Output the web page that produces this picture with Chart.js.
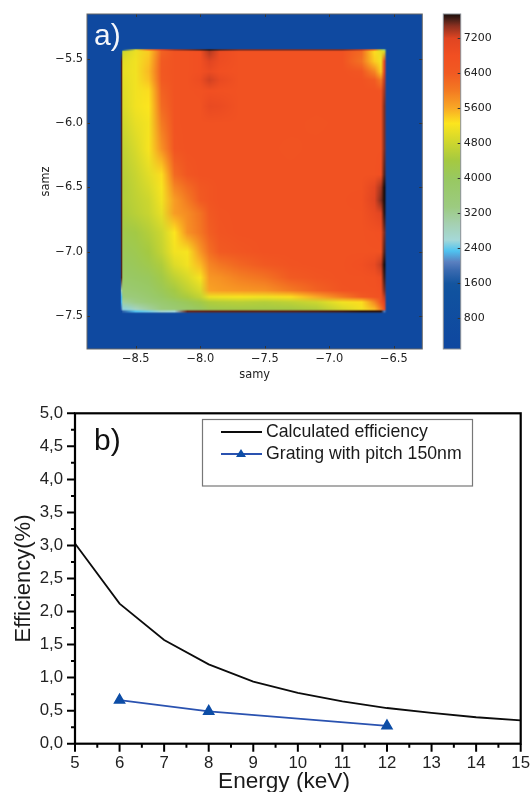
<!DOCTYPE html>
<html>
<head>
<meta charset="utf-8">
<style>
  html, body { margin: 0; padding: 0; background: #fff; }
  body { position: relative; width: 531px; height: 792px; overflow: hidden; }
  canvas { position: absolute; filter: blur(0.45px); }
</style>
<script src="https://cdn.jsdelivr.net/npm/chart.js@4"></script>
</head>
<body>
<canvas id="map-chart" width="430" height="395" style="left:0;top:0"></canvas>
<canvas id="bar-chart" width="101" height="395" style="left:430px;top:0"></canvas>
<canvas id="eff-chart" width="531" height="397" style="left:0;top:395px"></canvas>
<script>
// scan map a): node positions and counts
const samyNodes = [-8.88, -8.62, -8.61, -8.6, -8.5, -8.4, -8.3, -8.2, -8.1, -8.0, -7.93, -7.85, -7.7, -7.5, -7.3, -7.1, -6.9, -6.75, -6.65, -6.6, -6.575, -6.555, -6.28];
const samzNodes = [-5.15, -5.42, -5.432, -5.445, -5.52, -5.6, -5.665, -5.75, -5.87, -6.0, -6.2, -6.4, -6.5, -6.6, -6.7, -6.85, -7.0, -7.1, -7.2, -7.3, -7.35, -7.39, -7.445, -7.462, -7.48, -7.76];
const counts = [
  [300,300,300,300,300,300,300,300,300,300,300,300,300,300,300,300,300,300,300,300,300,300,300],
  [300,300,300,300,300,300,300,300,300,300,300,300,300,300,300,300,300,300,300,300,300,300,300],
  [300,300,300,1200,5000,6000,7200,7400,7500,7600,7700,7600,7500,7500,7500,7500,7500,7300,6000,4500,3500,300,300],
  [300,300,1200,4800,5100,5400,6300,6650,6700,6800,7350,6950,6700,6700,6680,6700,6700,6200,5300,5050,4900,300,300],
  [300,300,7600,5000,5150,5450,6400,6650,6700,6800,7200,6900,6700,6700,6700,6700,6700,6100,5400,5150,7000,300,300],
  [300,300,7600,5050,5150,5500,6450,6650,6700,6800,6950,6800,6700,6700,6700,6700,6700,6550,5900,5400,7200,300,300],
  [300,300,7600,5000,5150,5450,6400,6650,6700,6900,7250,7000,6700,6680,6700,6700,6700,6700,6400,6000,7300,300,300],
  [300,300,7600,4950,5150,5300,6300,6650,6700,6720,6800,6750,6700,6700,6700,6700,6700,6700,6700,6650,7400,300,300],
  [300,300,7600,4900,5150,5250,6200,6650,6700,6700,7000,6950,6700,6700,6700,6700,6700,6700,6700,6700,7500,300,300],
  [300,300,7600,4800,5050,5180,6000,6650,6700,6700,6700,6700,6700,6680,6700,6650,6700,6700,6700,6700,7500,300,300],
  [300,300,7600,4650,4900,5200,5800,6600,6700,6700,6700,6700,6700,6700,6650,6700,6700,6700,6700,6700,7500,300,300],
  [300,300,7600,4550,4750,5000,5300,6200,6550,6700,6700,6700,6700,6700,6700,6700,6700,6700,6700,6800,7600,300,300],
  [300,300,7600,4500,4700,4900,5200,5900,6200,6500,6600,6700,6700,6700,6700,6700,6700,6700,7100,7400,7750,300,300],
  [300,300,7600,4500,4650,4800,5150,5700,6000,6400,6600,6700,6700,6700,6700,6700,6700,6750,7200,7500,7750,300,300],
  [300,300,7600,4450,4600,4750,5050,5700,5850,6100,6450,6650,6700,6700,6700,6700,6700,6700,7000,7200,7700,300,300],
  [300,300,7600,4250,4350,4550,4800,5250,5800,6050,6350,6600,6700,6700,6700,6700,6700,6700,6750,6800,7500,300,300],
  [300,300,7600,4100,4200,4400,4700,5150,5200,5750,6150,6400,6550,6700,6700,6700,6700,6700,6700,6700,7600,300,300],
  [300,300,7600,4000,4100,4250,4500,4950,5150,5500,5900,6050,6250,6450,6650,6700,6700,6800,7000,7300,7750,300,300],
  [300,300,7600,3850,3950,4050,4300,4650,4900,5200,5750,5800,5950,6100,6400,6600,6700,6700,6750,6900,7650,300,300],
  [300,300,3000,3600,3700,3850,4100,4350,4650,4900,5650,5700,5750,5800,6000,6300,6650,6700,6700,6800,7500,300,300],
  [300,300,2300,3400,3500,3700,3950,4200,4450,4700,5100,5150,5200,5150,5300,5600,6000,6400,6650,6700,7300,300,300],
  [300,300,2300,3100,3300,3500,3700,3900,4100,4300,4500,4550,4600,4550,4650,4800,5150,5300,5900,6600,7200,300,300],
  [300,300,2000,2500,2800,3100,3400,3600,3800,4000,4200,4250,4300,4300,4350,4500,4900,5150,5500,6000,6800,300,300],
  [300,300,300,1800,2350,2450,2700,2600,7560,7570,7580,7580,7590,7590,7600,7620,7650,7700,7700,7700,2000,300,300],
  [300,300,300,300,300,300,300,300,300,300,300,300,300,300,300,300,300,300,300,300,300,300,300],
  [300,300,300,300,300,300,300,300,300,300,300,300,300,300,300,300,300,300,300,300,300,300,300],
];

const samyTicks = [-8.5, -8.0, -7.5, -7.0, -6.5];
const samzTicks = [-5.5, -6.0, -6.5, -7.0, -7.5];
const colorbarTicks = [800, 1600, 2400, 3200, 4000, 4800, 5600, 6400, 7200];

// colour bar stops, counts -> colour
const stopValues = [84, 1400, 1590, 1890, 2080, 2330, 2580, 2960, 3340, 4000, 4400, 4800, 5250, 5600, 6000, 6400, 6800, 7200, 7480, 7630, 7756];
const stopColors = ["#0f47a0", "#10529f", "#14559f", "#3a6ab0", "#5a80c0", "#4fc3f0", "#a5d8d8", "#a5d0b0", "#9ccb80", "#98c860", "#a5c940", "#cdd62e", "#fce51e", "#f9a825", "#f37a22", "#f15a22", "#f14f22", "#e04522", "#8c3020", "#4a2018", "#1a0c08"];

// efficiency plot b)
const energies = [5, 6, 7, 8, 9, 10, 11, 12, 13, 14, 15];
const calculated = [3.03, 2.12, 1.57, 1.2, 0.94, 0.77, 0.64, 0.54, 0.465, 0.4, 0.354];
const gratingEnergies = [6, 8, 12];
const gratingEfficiency = [0.66, 0.49, 0.27];

const sans = "'Liberation Sans', Arial, sans-serif";
const dejavu = "'DejaVu Sans', sans-serif";

function hexToRgb(hex) {
  return [1, 3, 5].map((i) => parseInt(hex.slice(i, i + 2), 16));
}

function valueToRgb(v) {
  if (v <= stopValues[0]) return hexToRgb(stopColors[0]);
  for (let i = 1; i < stopValues.length; i++) {
    if (v <= stopValues[i]) {
      const t = (v - stopValues[i - 1]) / (stopValues[i] - stopValues[i - 1]);
      const a = hexToRgb(stopColors[i - 1]);
      const b = hexToRgb(stopColors[i]);
      return a.map((c, k) => c + (b[k] - c) * t);
    }
  }
  return hexToRgb(stopColors[stopColors.length - 1]);
}

// index of the node pair around v, nodes may run up or down
function bracket(nodes, v) {
  const dir = nodes[1] > nodes[0] ? 1 : -1;
  let i = 0;
  while (i < nodes.length - 2 && (nodes[i + 1] - v) * dir < 0) i++;
  let t = (v - nodes[i]) / (nodes[i + 1] - nodes[i]);
  t = Math.max(0, Math.min(1, t));
  return [i, t];
}

// stops the layout from adding room for half a tick label
function fixBox(scale, size) {
  if (scale.isHorizontal()) scale.height = size;
  else scale.width = size;
  scale.paddingLeft = 0;
  scale.paddingRight = 0;
  scale.paddingTop = 0;
  scale.paddingBottom = 0;
}

const heatmapPlugin = {
  id: "heatmap",
  beforeDatasetsDraw(chart) {
    const { ctx, chartArea, scales } = chart;
    const nodeRgb = counts.map((row) => row.map(valueToRgb));
    const left = Math.round(chartArea.left);
    const top = Math.round(chartArea.top);
    const w = Math.round(chartArea.right) - left;
    const h = Math.round(chartArea.bottom) - top;
    const img = ctx.createImageData(w, h);
    for (let py = 0; py < h; py++) {
      const [r, tr] = bracket(samzNodes, scales.y.getValueForPixel(top + py + 0.5));
      for (let px = 0; px < w; px++) {
        const [c, tc] = bracket(samyNodes, scales.x.getValueForPixel(left + px + 0.5));
        const o = (py * w + px) * 4;
        for (let k = 0; k < 3; k++) {
          const up = nodeRgb[r][c][k] * (1 - tc) + nodeRgb[r][c + 1][k] * tc;
          const dn = nodeRgb[r + 1][c][k] * (1 - tc) + nodeRgb[r + 1][c + 1][k] * tc;
          img.data[o + k] = up * (1 - tr) + dn * tr;
        }
        img.data[o + 3] = 255;
      }
    }
    ctx.putImageData(img, left, top);
  },
  afterDatasetsDraw(chart) {
    const { ctx, chartArea, scales } = chart;
    ctx.save();
    // inward ticks on all four sides
    ctx.strokeStyle = "#333";
    ctx.lineWidth = 1;
    ctx.beginPath();
    samyTicks.forEach((v) => {
      const x = Math.round(scales.x.getPixelForValue(v)) + 0.5;
      ctx.moveTo(x, chartArea.top);
      ctx.lineTo(x, chartArea.top + 3);
      ctx.moveTo(x, chartArea.bottom);
      ctx.lineTo(x, chartArea.bottom - 3);
    });
    samzTicks.forEach((v) => {
      const y = Math.round(scales.y.getPixelForValue(v)) + 0.5;
      ctx.moveTo(chartArea.left, y);
      ctx.lineTo(chartArea.left + 3, y);
      ctx.moveTo(chartArea.right, y);
      ctx.lineTo(chartArea.right - 3, y);
    });
    ctx.stroke();
    ctx.strokeStyle = "#666";
    ctx.strokeRect(chartArea.left, chartArea.top, chartArea.right - chartArea.left, chartArea.bottom - chartArea.top);
    ctx.fillStyle = "#f4f6fa";
    ctx.font = "30px " + sans;
    ctx.textBaseline = "alphabetic";
    ctx.fillText("a)", 94, 45);
    ctx.restore();
  },
};

const colorbarPlugin = {
  id: "colorbar",
  beforeDatasetsDraw(chart) {
    const { ctx, chartArea, scales } = chart;
    const y = scales.y;
    const grad = ctx.createLinearGradient(0, chartArea.bottom, 0, chartArea.top);
    stopValues.forEach((v, i) => {
      const stop = (chartArea.bottom - y.getPixelForValue(v)) / (chartArea.bottom - chartArea.top);
      grad.addColorStop(Math.max(0, Math.min(1, stop)), stopColors[i]);
    });
    ctx.save();
    ctx.fillStyle = grad;
    ctx.fillRect(chartArea.left, chartArea.top, chartArea.right - chartArea.left, chartArea.bottom - chartArea.top);
    ctx.strokeStyle = "#333";
    ctx.lineWidth = 1;
    ctx.beginPath();
    colorbarTicks.forEach((v) => {
      const py = Math.round(y.getPixelForValue(v)) + 0.5;
      ctx.moveTo(chartArea.right, py);
      ctx.lineTo(chartArea.right - 3, py);
    });
    ctx.stroke();
    ctx.strokeStyle = "#8a8f96";
    ctx.strokeRect(chartArea.left, chartArea.top, chartArea.right - chartArea.left, chartArea.bottom - chartArea.top);
    ctx.restore();
  },
};

// frame, major and minor ticks, the "b)" tag and the boxed legend of plot b)
const effDecorPlugin = {
  id: "effDecor",
  afterDatasetsDraw(chart) {
    const { ctx, chartArea, scales } = chart;
    const { left, right, top, bottom } = chartArea;
    ctx.save();
    ctx.strokeStyle = "#000";
    ctx.lineWidth = 2.2;
    ctx.strokeRect(left, top, right - left, bottom - top);
    ctx.lineWidth = 2;
    ctx.beginPath();
    for (let v = 0; v <= 5; v += 0.25) {
      const y = scales.y.getPixelForValue(v);
      const len = v % 0.5 === 0 ? 8 : 4;
      ctx.moveTo(left, y);
      ctx.lineTo(left - len, y);
    }
    for (let v = 5; v <= 15; v += 0.5) {
      const x = scales.x.getPixelForValue(v);
      const len = v % 1 === 0 ? 8 : 4;
      ctx.moveTo(x, bottom);
      ctx.lineTo(x, bottom + len);
    }
    ctx.stroke();

    ctx.fillStyle = "#111";
    ctx.textBaseline = "alphabetic";
    ctx.font = "30px " + sans;
    ctx.fillText("b)", 94, 55);

    // axis title sits left of the axis centre in the original
    ctx.fillStyle = "#1a1a1a";
    ctx.font = "22.6px " + sans;
    ctx.textAlign = "center";
    ctx.fillText("Energy (keV)", 284, 393);
    ctx.textAlign = "left";

    // legend box
    ctx.strokeStyle = "#777";
    ctx.lineWidth = 1.2;
    ctx.strokeRect(202.5, 24.5, 270, 66.5);
    ctx.font = "17.7px " + sans;
    ctx.textBaseline = "middle";
    chart.data.datasets.forEach((ds, i) => {
      const y = 37 + i * 22;
      ctx.strokeStyle = ds.borderColor;
      ctx.lineWidth = ds.borderWidth;
      ctx.beginPath();
      ctx.moveTo(221, y);
      ctx.lineTo(262, y);
      ctx.stroke();
      if (ds.pointRadius > 0) {
        ctx.fillStyle = ds.pointBackgroundColor;
        ctx.beginPath();
        ctx.moveTo(241, y - 5);
        ctx.lineTo(246, y + 3);
        ctx.lineTo(236, y + 3);
        ctx.closePath();
        ctx.fill();
      }
      ctx.fillStyle = "#1a1a1a";
      ctx.fillText(ds.label, 266, y);
    });
    ctx.restore();
  },
};

function minusLabel(v) {
  return v.toFixed(1).replace("-", "\u2212");
}

new Chart(document.getElementById("map-chart"), {
  type: "scatter",
  plugins: [heatmapPlugin],
  data: {
    datasets: [
      {
        label: "counts",
        data: samzNodes.flatMap((z, r) => samyNodes.map((y, c) => ({ x: y, y: z, v: counts[r][c] }))),
        pointRadius: 0,
      },
    ],
  },
  options: {
    responsive: false,
    animation: false,
    events: [],
    layout: { padding: { left: 39.5, top: 14, right: 7.7, bottom: 13 } },
    plugins: { legend: { display: false }, tooltip: { enabled: false } },
    scales: {
      x: {
        type: "linear",
        min: -8.878,
        max: -6.28,
        afterFit: (s) => fixBox(s, 33),
        afterBuildTicks: (s) => { s.ticks = samyTicks.map((value) => ({ value })); },
        grid: { display: false, drawTicks: false },
        border: { display: false },
        ticks: { callback: minusLabel, padding: 3, maxRotation: 0, color: "#222", font: { family: dejavu, size: 11.4 } },
        title: { display: true, text: "samy", color: "#222", padding: 0, font: { family: dejavu, size: 11.4 } },
      },
      y: {
        type: "linear",
        min: -7.754,
        max: -5.153,
        afterFit: (s) => fixBox(s, 47.5),
        afterBuildTicks: (s) => { s.ticks = samzTicks.map((value) => ({ value })); },
        grid: { display: false, drawTicks: false },
        border: { display: false },
        ticks: { callback: minusLabel, padding: 4, color: "#222", font: { family: dejavu, size: 11.4 } },
        title: { display: true, text: "samz", color: "#222", padding: 0, font: { family: dejavu, size: 11.4 } },
      },
    },
  },
});

new Chart(document.getElementById("bar-chart"), {
  type: "scatter",
  plugins: [colorbarPlugin],
  data: {
    datasets: [{ label: "colour bar", data: stopValues.map((v) => ({ x: 0, y: v })), pointRadius: 0 }],
  },
  options: {
    responsive: false,
    animation: false,
    events: [],
    layout: { padding: { left: 13.3, top: 14, right: 30.3, bottom: 46 } },
    plugins: { legend: { display: false }, tooltip: { enabled: false } },
    scales: {
      x: { display: false, min: -1, max: 1 },
      y: {
        type: "linear",
        position: "right",
        min: 84,
        max: 7756,
        afterFit: (s) => fixBox(s, 40),
        afterBuildTicks: (s) => { s.ticks = colorbarTicks.map((value) => ({ value })); },
        grid: { display: false, drawTicks: false },
        border: { display: false },
        ticks: { callback: (v) => String(v), padding: 3, color: "#222", font: { family: dejavu, size: 11 } },
      },
    },
  },
});

new Chart(document.getElementById("eff-chart"), {
  type: "line",
  plugins: [effDecorPlugin],
  data: {
    datasets: [
      {
        label: "Calculated efficiency",
        data: energies.map((e, i) => ({ x: e, y: calculated[i] })),
        borderColor: "#0c0c0c",
        borderWidth: 1.8,
        pointRadius: 0,
        tension: 0,
      },
      {
        label: "Grating with pitch 150nm",
        data: gratingEnergies.map((e, i) => ({ x: e, y: gratingEfficiency[i] })),
        borderColor: "#2a52b0",
        borderWidth: 1.8,
        pointStyle: "triangle",
        pointRadius: 5.5,
        pointBackgroundColor: "#0d4da6",
        pointBorderColor: "#0d4da6",
        tension: 0,
      },
    ],
  },
  options: {
    responsive: false,
    animation: false,
    events: [],
    layout: { padding: { left: 11, top: 18.3, right: 10.3, bottom: 0 } },
    plugins: { legend: { display: false }, tooltip: { enabled: false } },
    scales: {
      x: {
        type: "linear",
        min: 5,
        max: 15,
        afterFit: (s) => fixBox(s, 48.3),
        grid: { display: false, drawTicks: false },
        border: { display: false },
        ticks: { stepSize: 1, padding: 10, maxRotation: 0, color: "#222", font: { family: sans, size: 16.8 } },
      },
      y: {
        type: "linear",
        min: 0,
        max: 5,
        afterFit: (s) => fixBox(s, 64),
        grid: { display: false, drawTicks: false },
        border: { display: false },
        ticks: { stepSize: 0.5, padding: 12, color: "#222", callback: (v) => v.toFixed(1).replace(".", ","), font: { family: sans, size: 16.8 } },
        title: { display: true, text: "Efficiency(%)", color: "#1a1a1a", padding: 0, font: { family: sans, size: 22 } },
      },
    },
  },
});
</script>
</body>
</html>
